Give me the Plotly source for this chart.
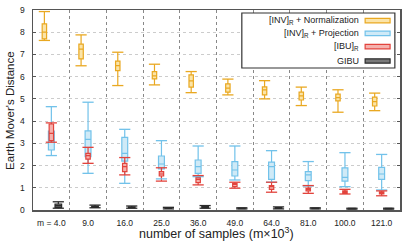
import plotly.graph_objects as go

categories = ["m = 4.0", "9.0", "16.0", "25.0", "36.0", "49.0", "64.0", "81.0", "100.0", "121.0"]

# [INV]_R + Normalization
norm_min = [7.63, 6.49, 5.60, 5.63, 5.28, 5.18, 5.00, 4.70, 4.40, 4.47]
norm_q1 = [7.70, 6.80, 6.27, 5.90, 5.53, 5.30, 5.18, 4.95, 4.91, 4.68]
norm_med = [8.00, 7.24, 6.50, 6.04, 5.81, 5.48, 5.41, 5.14, 5.06, 4.88]
norm_q3 = [8.38, 7.46, 6.70, 6.23, 6.08, 5.68, 5.54, 5.30, 5.21, 5.08]
norm_max = [8.93, 7.88, 7.10, 6.56, 6.23, 5.89, 5.82, 5.53, 5.41, 5.26]

# [INV]_R + Projection
proj_min = [2.45, 1.65, 1.20, 1.40, 1.50, 1.35, 1.25, 1.08, 1.05, 0.90]
proj_q1 = [2.70, 2.40, 2.20, 1.85, 1.65, 1.53, 1.38, 1.32, 1.30, 1.38]
proj_med = [3.10, 3.18, 2.55, 2.07, 1.95, 1.80, 1.95, 1.58, 1.47, 1.62]
proj_q3 = [3.55, 3.56, 3.27, 2.43, 2.25, 2.18, 2.15, 1.73, 1.90, 1.92]
proj_max = [4.65, 4.85, 3.63, 3.12, 2.88, 2.88, 2.67, 2.18, 2.58, 2.50]

# [IBU]_R
ibu_min = [3.05, 2.10, 1.58, 1.30, 1.13, 0.98, 0.80, 0.75, 0.72, 0.64]
ibu_q1 = [3.12, 2.29, 1.73, 1.53, 1.23, 1.05, 0.93, 0.86, 0.75, 0.72]
ibu_med = [3.45, 2.45, 1.95, 1.62, 1.38, 1.15, 1.05, 0.93, 0.80, 0.78]
ibu_q3 = [3.87, 2.55, 2.10, 1.73, 1.46, 1.20, 1.10, 0.98, 0.86, 0.82]
ibu_max = [3.92, 2.82, 2.36, 1.90, 1.55, 1.25, 1.25, 1.10, 0.93, 0.86]

# GIBU
gibu_min = [0.08, 0.10, 0.08, 0.05, 0.08, 0.05, 0.05, 0.05, 0.04, 0.04]
gibu_q1 = [0.12, 0.12, 0.10, 0.07, 0.10, 0.06, 0.07, 0.06, 0.05, 0.05]
gibu_med = [0.20, 0.15, 0.12, 0.08, 0.12, 0.07, 0.09, 0.07, 0.06, 0.06]
gibu_q3 = [0.27, 0.18, 0.14, 0.10, 0.15, 0.09, 0.11, 0.08, 0.07, 0.07]
gibu_max = [0.37, 0.22, 0.18, 0.12, 0.20, 0.10, 0.14, 0.10, 0.08, 0.08]

legend_names = ["[INV]<sub>R</sub> + Normalization", "[INV]<sub>R</sub> + Projection",
                "[IBU]<sub>R</sub>", "GIBU"]
x_title = "number of samples (m×10<sup>3</sup>)"
y_title = "Earth Mover's Distance"

FONT = "Liberation Sans, Arial, sans-serif"
idx = list(range(len(categories)))

series = [
    # name, mins, q1, med, q3, max, offset, width, edge, fill
    (legend_names[0], norm_min, norm_q1, norm_med, norm_q3, norm_max, -0.19, 0.12, "#E9A821", "#FBE4A8"),
    (legend_names[1], proj_min, proj_q1, proj_med, proj_q3, proj_max, 0.0, 0.16, "#72C2EA", "#CFEAF7"),
    (legend_names[2], ibu_min, ibu_q1, ibu_med, ibu_q3, ibu_max, 0.0, 0.12, "#E2433C", "#F5B1AD"),
    (legend_names[3], gibu_min, gibu_q1, gibu_med, gibu_q3, gibu_max, 0.19, 0.18, "#2B2B2B", "#7A7A7A"),
]

fig = go.Figure()
for name, mn, q1, med, q3, mx, off, w, edge, fill in series:
    xs = [i + off for i in idx]
    fig.add_trace(go.Box(
        x=xs, q1=q1, median=med, q3=q3, lowerfence=mn, upperfence=mx,
        width=w, whiskerwidth=0, fillcolor=fill,
        line=dict(color=edge, width=1.2), name=name, showlegend=False,
        hoverinfo="skip"))
    fig.add_trace(go.Scatter(
        x=xs + xs, y=mn + mx, mode="markers",
        marker=dict(symbol="line-ew", size=8, line=dict(color=edge, width=1.3)),
        showlegend=False, hoverinfo="skip"))

# manual legend (text left of swatch)
lx0, lx1, ly0, ly1 = 0.569, 0.986, 0.71, 0.985
fig.add_shape(type="rect", xref="paper", yref="paper", x0=lx0, x1=lx1, y0=ly0, y1=ly1,
              line=dict(color="#333333", width=1.2), fillcolor="white", layer="above")
rows = [0.947, 0.883, 0.817, 0.745]
for (name, *_rest), yr in zip(series, rows):
    edge, fill = _rest[-2], _rest[-1]
    fig.add_annotation(xref="paper", yref="paper", x=0.893, y=yr, text=name,
                       showarrow=False, xanchor="right", yanchor="middle",
                       font=dict(family=FONT, size=9, color="#222222"))
    fig.add_shape(type="rect", xref="paper", yref="paper", x0=0.905, x1=0.973,
                  y0=yr - 0.011, y1=yr + 0.011, fillcolor=fill,
                  line=dict(color=edge, width=1.2), layer="above")

# axis titles as annotations for precise placement
fig.add_annotation(xref="paper", yref="paper", x=0.5, y=-0.115, text=x_title,
                   showarrow=False, xanchor="center", yanchor="middle",
                   font=dict(family=FONT, size=12.5, color="#222222"))
fig.add_annotation(xref="paper", yref="paper", x=-0.063, y=0.5, text=y_title,
                   showarrow=False, xanchor="center", yanchor="middle", textangle=-90,
                   font=dict(family=FONT, size=11.5, color="#222222"))

fig.update_layout(
    width=415, height=249,
    margin=dict(l=33, r=15, t=10, b=39),
    plot_bgcolor="white", paper_bgcolor="white",
    font=dict(family=FONT, size=8.5, color="#222222"),
    showlegend=False,
)
fig.update_xaxes(
    range=[-0.5, 9.5], tickvals=idx, ticktext=categories, showgrid=False, zeroline=False,
    showline=True, linecolor="#555555", linewidth=1.5, mirror=True, ticks="",
    ticklabelstandoff=4, automargin=False,
    minor=dict(tickvals=[i + 0.5 for i in idx[:-1]], showgrid=True, gridcolor="#888888",
               griddash="dot", gridwidth=1, ticks=""),
)
fig.update_yaxes(
    range=[0, 9], tickvals=list(range(10)), showgrid=True, gridcolor="#CCCCCC",
    griddash="dot", gridwidth=1, zeroline=False, automargin=False,
    showline=True, linecolor="#555555", linewidth=1.5, mirror="ticks", ticks="inside",
    ticklen=3, tickcolor="#555555", ticklabelstandoff=5,
)

fig.write_html("out.html", config={"displayModeBar": False, "staticPlot": True},
               post_script="document.body.style.margin='0';document.body.style.padding='0';")
